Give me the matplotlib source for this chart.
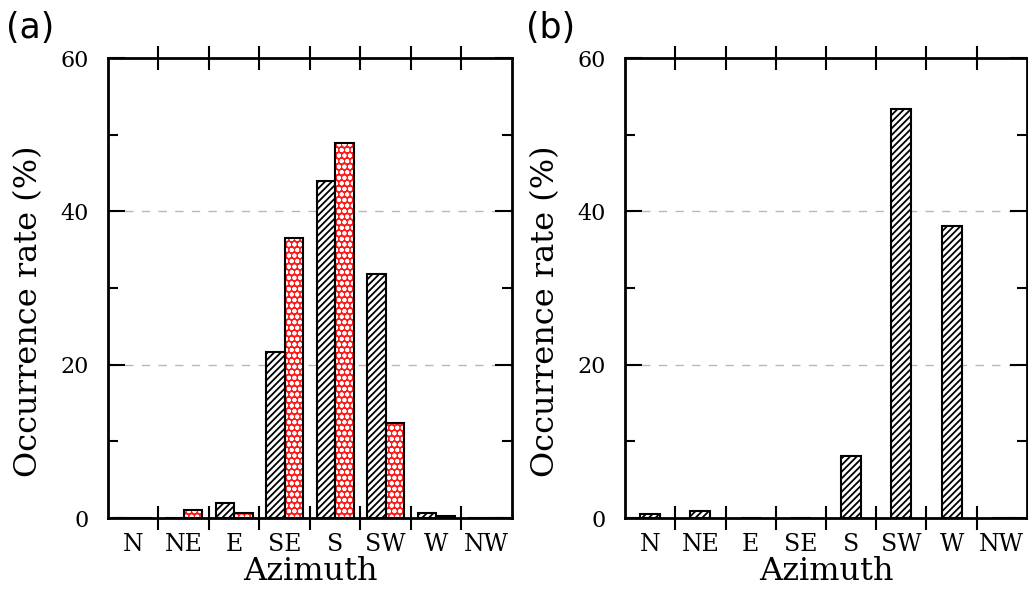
import numpy as np
import matplotlib
matplotlib.use("Agg")
from matplotlib import pyplot as plt
from matplotlib.ticker import MultipleLocator, FixedLocator

# ---------------- data ----------------
azimuths = ["N", "NE", "E", "SE", "S", "SW", "W", "NW"]

# panel (a): two series
rate_a_black = [0.0, 0.0, 2.0, 21.6, 43.9, 31.8, 0.6, 0.0]
rate_a_red = [0.0, 1.05, 0.65, 36.5, 48.9, 12.4, 0.3, 0.0]

# panel (b): one series
rate_b = [0.5, 0.95, 0.0, 0.0, 8.1, 53.3, 38.1, 0.0]

plt.rcParams['hatch.linewidth'] = 1.3
serif = "DejaVu Serif"

fig = plt.figure(figsize=(10.28, 5.89), dpi=100)
ax_a = fig.add_axes([0.105, 0.1205, 0.393, 0.781])
ax_b = fig.add_axes([0.608, 0.1205, 0.391, 0.781])

x = np.arange(len(azimuths))


def style_axes(ax):
    ax.set_xlim(-0.5, len(azimuths) - 0.5)
    ax.set_ylim(0, 60)
    ax.set_xticks(x)
    ax.set_xticklabels(azimuths, fontfamily=serif, fontsize=17)
    ax.xaxis.set_minor_locator(FixedLocator(x[:-1] + 0.5))
    ax.tick_params(axis='x', which='major', length=0, pad=11)
    ax.tick_params(axis='x', which='minor', direction='inout', length=17,
                   width=1.5, top=True, bottom=True)
    ax.yaxis.set_major_locator(MultipleLocator(20))
    ax.yaxis.set_minor_locator(MultipleLocator(10))
    ax.tick_params(axis='y', which='major', direction='in', length=12,
                   width=1.5, left=True, right=True, pad=14)
    ax.tick_params(axis='y', which='minor', direction='in', length=7,
                   width=1.5, left=True, right=True)
    for lab in ax.get_yticklabels():
        lab.set_fontfamily(serif)
        lab.set_fontsize(16)
    for lvl in (20, 40):
        ax.axhline(lvl, color='0.72', linestyle=(0, (6, 6)), linewidth=1.0, zorder=0)
    for sp in ax.spines.values():
        sp.set_linewidth(2)
    ax.set_xlabel("Azimuth", fontfamily=serif, fontsize=23, labelpad=0)
    ax.set_ylabel("Occurrence rate (%)", fontfamily=serif, fontsize=23)
    ax.yaxis.set_label_coords(-0.158, 0.45)


def hatched_bar(ax, xpos, heights, width, face, hatch, hatch_col):
    ax.bar(xpos, heights, width, color=face, edgecolor=hatch_col, hatch=hatch,
           linewidth=0, zorder=2)
    ax.bar(xpos, heights, width, fill=False, edgecolor='black', linewidth=1.5, zorder=3)


# panel (a)
w = 0.37
hatched_bar(ax_a, x - w / 2, rate_a_black, w, 'white', '/////', 'black')
hatched_bar(ax_a, x + w / 2, rate_a_red, w, '#ff1a1a', 'ooo', 'white')
style_axes(ax_a)

# panel (b)
hatched_bar(ax_b, x, rate_b, 0.4, 'white', '/////', 'black')
style_axes(ax_b)

fig.text(0.006, 0.952, "(a)", fontsize=25, va='center', ha='left')
fig.text(0.512, 0.952, "(b)", fontsize=25, va='center', ha='left')

fig.savefig("out.png", dpi=100)
